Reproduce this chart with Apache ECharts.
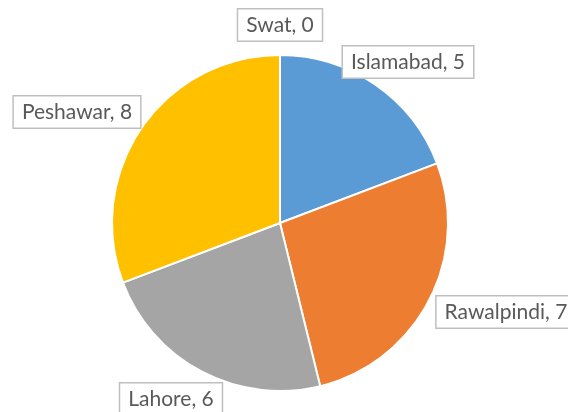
<!DOCTYPE html>
<html>
<head>
<meta charset="utf-8">
<script src="https://cdn.jsdelivr.net/npm/echarts@6/dist/echarts.min.js"></script>
<style>
  html, body { margin: 0; padding: 0; background: #fff; }
  #chart { width: 568px; height: 412px; }
</style>
</head>
<body>
<div id="chart"></div>
<script>
const cities = ['Islamabad', 'Rawalpindi', 'Lahore', 'Peshawar', 'Swat'];
const counts = [5, 7, 6, 8, 0];
const colors = ['#5b9bd5', '#ed7d31', '#a5a5a5', '#ffc000', '#4472c4'];
// where each callout box sits (center of the box)
const labelSpots = [[408, 62], [506, 312], [171, 399], [77, 112], [280, 25]];

const chart = echarts.init(document.getElementById('chart'));
chart.setOption({
  animation: false,
  series: [{
    type: 'pie',
    center: [280, 223],
    radius: 168,
    startAngle: 90,
    clockwise: true,
    avoidLabelOverlap: false,
    itemStyle: { borderColor: '#fff', borderWidth: 2 },
    label: {
      show: true,
      formatter: '{b}, {c}',
      fontFamily: 'Lato',
      fontSize: 21,
      color: '#595959',
      backgroundColor: '#fff',
      borderColor: '#bfbfbf',
      borderWidth: 1.5,
      padding: [6, 8, 4, 8]
    },
    labelLine: { show: false },
    labelLayout: function (params) {
      const p = labelSpots[params.dataIndex];
      return { x: p[0], y: p[1], align: 'center', verticalAlign: 'middle' };
    },
    emphasis: { disabled: true },
    data: cities.map((c, i) => ({
      name: c,
      value: counts[i],
      itemStyle: { color: colors[i] }
    }))
  }]
});
window.onresize = function () {
  chart.resize();
};
</script>
</body>
</html>
